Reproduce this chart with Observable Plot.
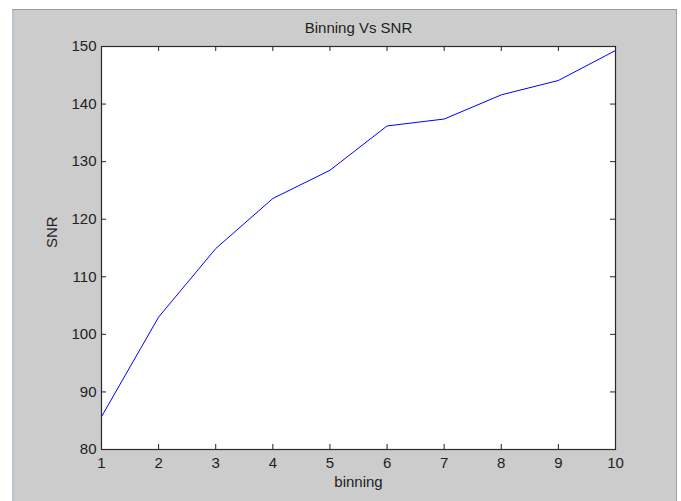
<!DOCTYPE html>
<html>
<head>
<meta charset="utf-8">
<script src="https://cdn.jsdelivr.net/npm/d3@7"></script>
<script src="https://cdn.jsdelivr.net/npm/@observablehq/plot@0.6"></script>
<style>
  html, body { margin: 0; padding: 0; background: #ffffff; width: 681px; height: 501px; overflow: hidden; }
  #win { position: absolute; left: 12px; top: 9px; width: 665px; height: 492px; background: #cccccc;
         border-left: 2px solid #b9c3cc; border-top: 1px solid #9a9a9a; border-right: 1px solid #a0a0a0; box-sizing: border-box; }
  #chart { position: absolute; left: 0; top: 0; }
</style>
</head>
<body>
<div id="win"></div>
<div id="chart"></div>
<script>
const binning = [1, 2, 3, 4, 5, 6, 7, 8, 9, 10];
const snr = [85.7, 103.0, 114.9, 123.6, 128.5, 136.2, 137.4, 141.6, 144.1, 149.3];
const xTicks = [1, 2, 3, 4, 5, 6, 7, 8, 9, 10];
const yTicks = [80, 90, 100, 110, 120, 130, 140, 150];
const title = "Binning Vs SNR";
const xLabel = "binning";
const yLabel = "SNR";

const data = binning.map((b, i) => ({binning: b, snr: snr[i]}));

const W = 681, H = 501, mL = 101, mR = 66, mT = 46, mB = 52;
const innerW = W - mL - mR, innerH = H - mT - mB;
const tickLen = 5;
const ink = "#222";

const chart = Plot.plot({
  width: W,
  height: H,
  marginLeft: mL,
  marginRight: mR,
  marginTop: mT,
  marginBottom: mB,
  x: {domain: [1, 10]},
  y: {domain: [80, 150]},
  style: {background: "transparent", fontFamily: "'Liberation Sans', Arial, sans-serif", fontSize: "15px", color: ink},
  marks: [
    Plot.frame({fill: "white", stroke: "none"}),
    Plot.line(data, {x: "binning", y: "snr", stroke: "#0000ff", strokeWidth: 1}),
    // inward ticks
    Plot.ruleX(xTicks, {x: d => d, insetTop: innerH - tickLen, stroke: ink}),
    Plot.ruleX(xTicks, {x: d => d, insetBottom: innerH - tickLen, stroke: ink}),
    Plot.ruleY(yTicks, {y: d => d, insetRight: innerW - tickLen, stroke: ink}),
    Plot.ruleY(yTicks, {y: d => d, insetLeft: innerW - tickLen, stroke: ink}),
    Plot.frame({stroke: "#2a2a2a", strokeWidth: 1.2}),
    Plot.axisX(xTicks, {tickSize: 0, tickPadding: 8, label: null, fontSize: 15, fill: ink}),
    Plot.axisY(yTicks, {tickSize: 0, tickPadding: 5, label: null, fontSize: 15, fill: ink}),
    Plot.text([title], {frameAnchor: "top", lineAnchor: "middle", dy: -18, fontSize: 15, fill: ink}),
    Plot.text([xLabel], {frameAnchor: "bottom", lineAnchor: "middle", dy: 33, fontSize: 15, fill: ink}),
    Plot.text([yLabel], {frameAnchor: "left", dx: -49, rotate: -90, fontSize: 15, fill: ink})
  ]
});
document.getElementById("chart").appendChild(chart);
</script>
</body>
</html>
